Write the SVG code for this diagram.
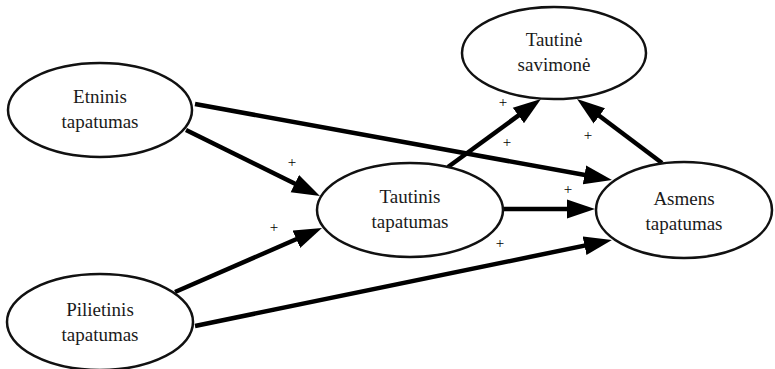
<svg xmlns="http://www.w3.org/2000/svg" width="775" height="369" viewBox="0 0 775 369">
<style>
.node ellipse{fill:#fff;stroke:#111;stroke-width:2.5}
.node text{font-family:"Liberation Serif","Times New Roman",serif;font-size:19px;fill:#1a1a1a;text-anchor:middle}
.edge line{stroke:#000;stroke-width:4.5;marker-end:url(#ah)}
.sign{font-family:"Liberation Serif","Times New Roman",serif;font-size:15px;fill:#000;text-anchor:middle}
</style>
<defs>
<marker id="ah" markerUnits="userSpaceOnUse" markerWidth="29" markerHeight="20" refX="16" refY="9.5" orient="auto" viewBox="0 0 29 19">
<path d="M0,0 L28,9.5 L0,19 Z" fill="#000"/>
</marker>
</defs>
<rect width="775" height="369" fill="#fff"/>
<g id="connectors" class="edge">
<line x1="186" y1="130" x2="309.2" y2="190.7"/>
<line x1="195" y1="104" x2="600.2" y2="177.8"/>
<line x1="448" y1="167" x2="531.3" y2="106.1"/>
<line x1="662" y1="163" x2="586.6" y2="106.2"/>
<line x1="502" y1="209" x2="583" y2="209"/>
<line x1="175" y1="292" x2="311" y2="232.8"/>
<line x1="195" y1="326" x2="600.2" y2="242.4"/>
</g>
<g id="n-etninis" class="node">
<ellipse cx="100" cy="110" rx="92" ry="47"/>
<text x="100" y="103" font-family="Liberation Serif, serif">Etninis</text>
<text x="100" y="128" font-family="Liberation Serif, serif">tapatumas</text>
</g>
<g id="n-tautinis" class="node">
<ellipse cx="410" cy="210" rx="93" ry="47"/>
<text x="410" y="203">Tautinis</text>
<text x="410" y="228">tapatumas</text>
</g>
<g id="n-savimone" class="node">
<ellipse cx="554" cy="53" rx="92" ry="46"/>
<text x="554" y="46">Tautinė</text>
<text x="554" y="71">savimonė</text>
</g>
<g id="n-asmens" class="node">
<ellipse cx="684" cy="210" rx="88" ry="48"/>
<text x="684" y="205">Asmens</text>
<text x="684" y="230">tapatumas</text>
</g>
<g id="n-pilietinis" class="node">
<ellipse cx="100" cy="322" rx="93" ry="48"/>
<text x="100" y="316">Pilietinis</text>
<text x="100" y="341">tapatumas</text>
</g>
<g id="signs">
<text class="sign" x="292" y="167">+</text>
<text class="sign" x="274" y="232">+</text>
<text class="sign" x="503" y="107">+</text>
<text class="sign" x="507" y="147">+</text>
<text class="sign" x="588" y="140">+</text>
<text class="sign" x="568" y="194">+</text>
<text class="sign" x="500" y="248">+</text>
</g>
</svg>
